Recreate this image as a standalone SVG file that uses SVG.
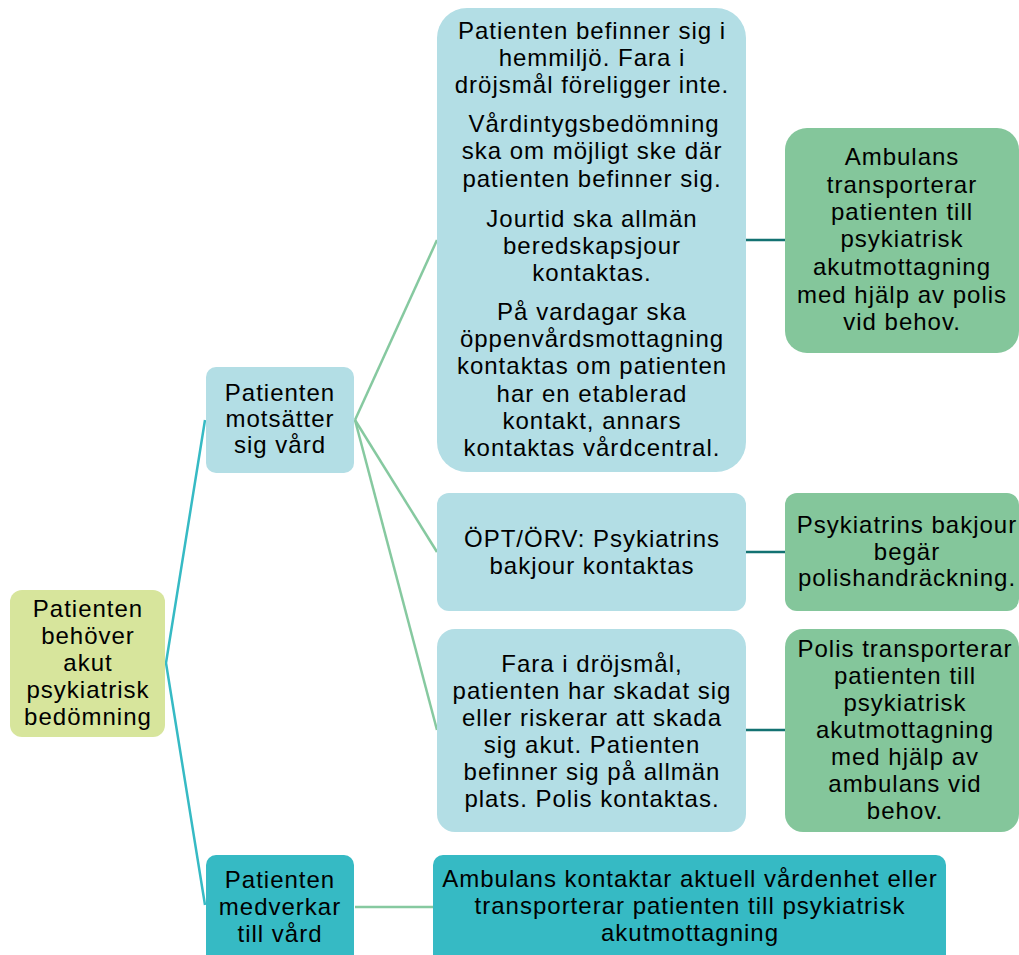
<svg xmlns="http://www.w3.org/2000/svg" width="1019" height="955" viewBox="0 0 1019 955">
<style>
text{font-family:"Liberation Sans",Arial,sans-serif;font-size:24px;letter-spacing:1px;fill:#000;text-anchor:middle}
.lime{fill:#D7E59C}
.lb{fill:#B3DEE5}
.teal{fill:#36BAC4}
.gr{fill:#84C69B}
.c1{stroke:#36BAC4;stroke-width:2.5;fill:none}
.c2{stroke:#86C9A0;stroke-width:2.5;fill:none}
.c3{stroke:#137272;stroke-width:2.5;fill:none}
</style>
<rect width="1019" height="955" fill="#fff"/>
<g id="connectors">
<polyline class="c1" points="205,420 166,663 205,905"/>
<line class="c2" x1="355" y1="420" x2="437" y2="240"/>
<line class="c2" x1="355" y1="420" x2="437" y2="552"/>
<line class="c2" x1="355" y1="420" x2="437" y2="730"/>
<line class="c2" x1="355" y1="907" x2="433" y2="907"/>
<line class="c3" x1="746" y1="240" x2="785" y2="240"/>
<line class="c3" x1="746" y1="552" x2="785" y2="552"/>
<line class="c3" x1="746" y1="730" x2="785" y2="730"/>
</g>
<g id="root">
<rect class="lime" x="10" y="590" width="155" height="147" rx="12"/>
<text x="88" y="617">Patienten</text>
<text x="88" y="644">behöver</text>
<text x="88" y="671">akut</text>
<text x="88" y="698">psykiatrisk</text>
<text x="88" y="725">bedömning</text>
</g>
<g id="motsatter">
<rect class="lb" x="206" y="367" width="148" height="106" rx="10"/>
<text x="280" y="401">Patienten</text>
<text x="280" y="427">motsätter</text>
<text x="280" y="453">sig vård</text>
</g>
<g id="medverkar">
<rect class="teal" x="206" y="855" width="148" height="120" rx="10"/>
<text x="280" y="888">Patienten</text>
<text x="280" y="915">medverkar</text>
<text x="280" y="942">till vård</text>
</g>
<g id="hemmiljo">
<rect class="lb" x="437" y="8" width="309" height="464" rx="30"/>
<text x="592" y="39">Patienten befinner sig i</text>
<text x="592" y="66">hemmiljö. Fara i</text>
<text x="592" y="93">dröjsmål föreligger inte.</text>
<text x="594" y="132">Vårdintygsbedömning</text>
<text x="592" y="159">ska om möjligt ske där</text>
<text x="592" y="187">patienten befinner sig.</text>
<text x="592" y="227">Jourtid ska allmän</text>
<text x="592" y="254">beredskapsjour</text>
<text x="592" y="281">kontaktas.</text>
<text x="592" y="320">På vardagar ska</text>
<text x="592" y="347">öppenvårdsmottagning</text>
<text x="592" y="374">kontaktas om patienten</text>
<text x="592" y="402">har en etablerad</text>
<text x="592" y="429">kontakt, annars</text>
<text x="592" y="456">kontaktas vårdcentral.</text>
</g>
<g id="opt">
<rect class="lb" x="437" y="493" width="309" height="118" rx="12"/>
<text x="592" y="547">ÖPT/ÖRV: Psykiatrins</text>
<text x="592" y="574">bakjour kontaktas</text>
</g>
<g id="fara">
<rect class="lb" x="437" y="629" width="309" height="203" rx="18"/>
<text x="592" y="672">Fara i dröjsmål,</text>
<text x="592" y="699">patienten har skadat sig</text>
<text x="592" y="726">eller riskerar att skada</text>
<text x="592" y="753">sig akut. Patienten</text>
<text x="592" y="780">befinner sig på allmän</text>
<text x="592" y="807">plats. Polis kontaktas.</text>
</g>
<g id="ambulans1">
<rect class="gr" x="785" y="128" width="234" height="225" rx="22"/>
<text x="902" y="165">Ambulans</text>
<text x="902" y="193">transporterar</text>
<text x="902" y="220">patienten till</text>
<text x="902" y="247">psykiatrisk</text>
<text x="902" y="275">akutmottagning</text>
<text x="902" y="303">med hjälp av polis</text>
<text x="902" y="330">vid behov.</text>
</g>
<g id="bakjour">
<rect class="gr" x="785" y="493" width="234" height="118" rx="12"/>
<text x="907" y="533">Psykiatrins bakjour</text>
<text x="907" y="560">begär</text>
<text x="907" y="586">polishandräckning.</text>
</g>
<g id="polis">
<rect class="gr" x="785" y="629" width="234" height="203" rx="18"/>
<text x="905" y="657">Polis transporterar</text>
<text x="905" y="684">patienten till</text>
<text x="905" y="711">psykiatrisk</text>
<text x="905" y="738">akutmottagning</text>
<text x="905" y="765">med hjälp av</text>
<text x="905" y="792">ambulans vid</text>
<text x="905" y="819">behov.</text>
</g>
<g id="ambulans2">
<rect class="teal" x="433" y="855" width="513" height="120" rx="10"/>
<text x="690" y="887">Ambulans kontaktar aktuell vårdenhet eller</text>
<text x="690" y="914">transporterar patienten till psykiatrisk</text>
<text x="690" y="941">akutmottagning</text>
</g>
</svg>
